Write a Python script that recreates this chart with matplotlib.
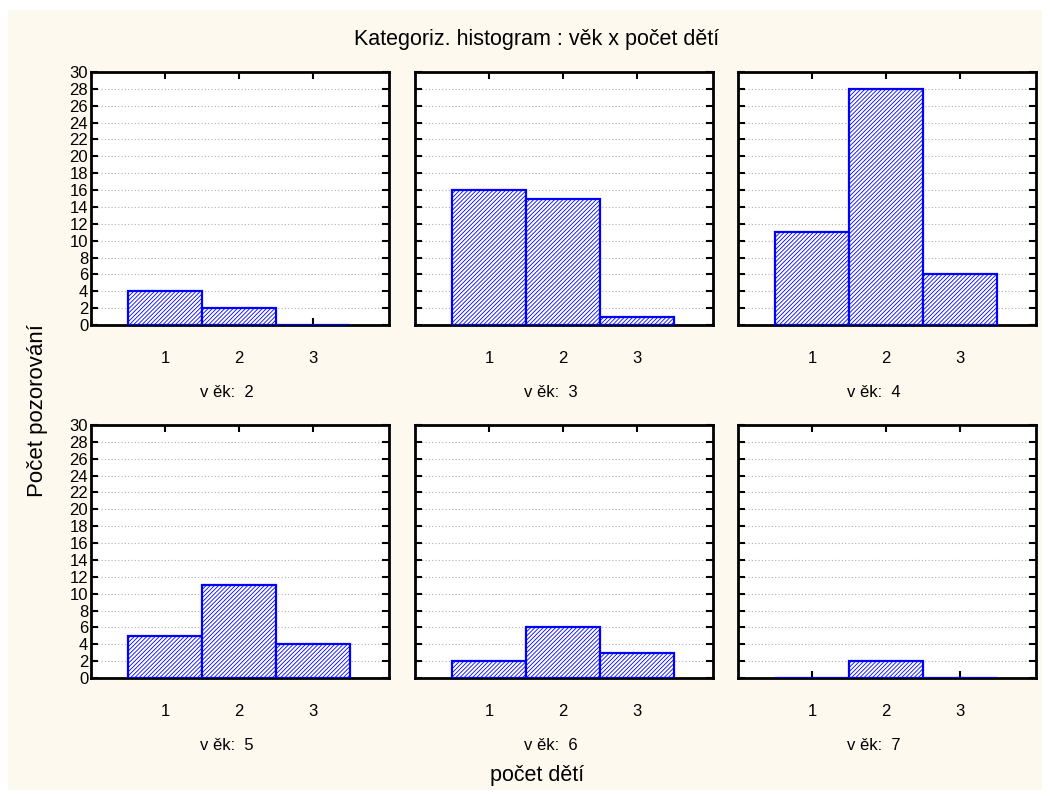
import matplotlib.pyplot as plt
import matplotlib as mpl
from matplotlib.patches import Rectangle

plt.rcParams['font.family'] = ['Liberation Sans', 'DejaVu Sans']
mpl.rcParams['hatch.color'] = '#0000ff'
mpl.rcParams['hatch.linewidth'] = 0.6

categories = [1, 2, 3]
ages = [2, 3, 4, 5, 6, 7]
counts = {
    2: [4, 2, 0],
    3: [16, 15, 1],
    4: [11, 28, 6],
    5: [5, 11, 4],
    6: [2, 6, 3],
    7: [0, 2, 0],
}
yticks = list(range(0, 31, 2))

W, H = 1050, 796
fig = plt.figure(figsize=(W / 100, H / 100), dpi=100)
fig.patch.set_facecolor('white')
fig.patches.append(Rectangle((8 / W, 6 / H), 1034 / W, 780 / H, transform=fig.transFigure,
                             facecolor='#fdf9ef', edgecolor='none', zorder=-10))

lefts = [91, 415, 738]
tops = [72, 425]
aw, ah = 298, 253

for i, age in enumerate(ages):
    r, c = divmod(i, 3)
    x0 = lefts[c] / W
    y0 = 1 - (tops[r] + ah) / H
    ax = fig.add_axes([x0, y0, aw / W, ah / H])
    ax.set_facecolor('white')
    ax.bar(categories, counts[age], width=1.0, color='white', edgecolor='#0000ff',
           linewidth=1.6, hatch='////////', zorder=3)
    ax.set_xlim(0, 4.03)
    ax.set_ylim(0, 30)
    ax.set_xticks(categories)
    ax.set_yticks(yticks)
    ax.grid(axis='y', color='#b0b0b0', linestyle=(0, (1, 2)), linewidth=0.8, zorder=0)
    ax.tick_params(direction='in', top=True, right=True, length=5, width=1.5,
                   labelsize=12, pad=2)
    ax.tick_params(axis='x', pad=19)
    if c != 0:
        ax.set_yticklabels([])
    for s in ax.spines.values():
        s.set_linewidth(2)
    ax.text(0.5 - 13 / aw, -67 / ah, f'v ěk:  {age}', transform=ax.transAxes, ha='center',
            va='center', fontsize=12)

fig.text(537 / W, 1 - 39 / H, 'Kategoriz. histogram : věk x počet dětí', ha='center',
         va='center', fontsize=15.5)
fig.text(537 / W, 1 - 776 / H, 'počet dětí', ha='center', va='center', fontsize=15.5)
fig.text(38 / W, 1 - 411 / H, 'Počet pozorování', ha='center', va='center', fontsize=16,
         rotation=90)

fig.savefig('out.png', dpi=100, facecolor=fig.get_facecolor())
